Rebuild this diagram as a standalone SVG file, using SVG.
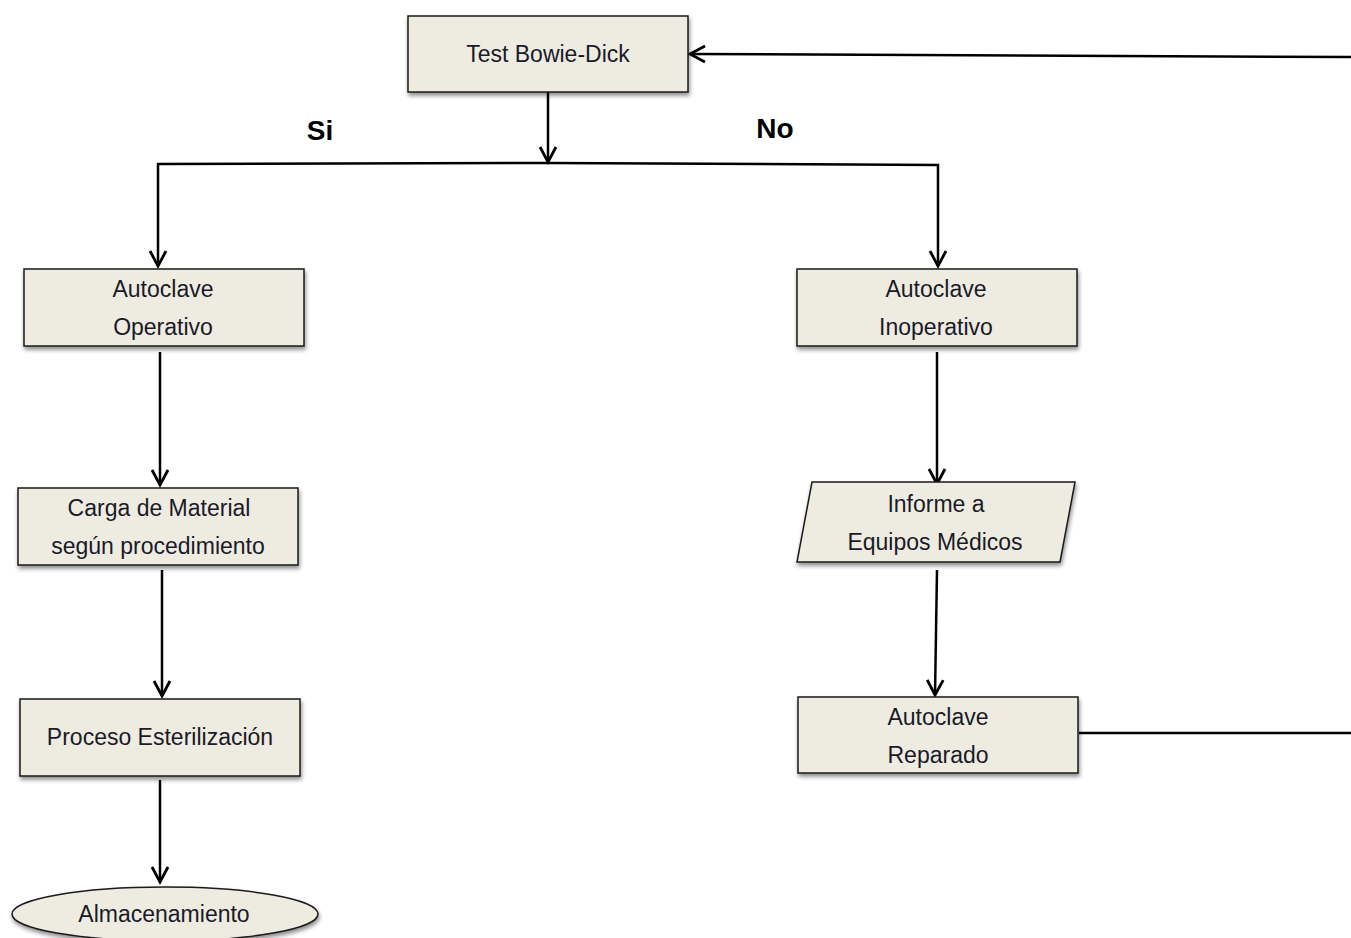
<svg xmlns="http://www.w3.org/2000/svg" width="1351" height="938" viewBox="0 0 1351 938">
<defs>
<marker id="arr" markerWidth="26" markerHeight="26" refX="21" refY="13" orient="auto" markerUnits="userSpaceOnUse">
<path d="M6,5 L21,13 L6,21" fill="none" stroke="#000" stroke-width="2.8"/>
</marker>
<filter id="sh" x="-10%" y="-10%" width="120%" height="130%">
<feGaussianBlur in="SourceAlpha" stdDeviation="2"/>
<feOffset dx="1" dy="3" result="b"/>
<feComponentTransfer><feFuncA type="linear" slope="0.45"/></feComponentTransfer>
<feMerge><feMergeNode/><feMergeNode in="SourceGraphic"/></feMerge>
</filter>
</defs>
<style>
.n{fill:#EEECE1;stroke:#1a1a1a;stroke-width:1.5;filter:url(#sh)}
.t{font-family:"Liberation Sans",Arial,sans-serif;font-size:23px;fill:#1a1a28;text-anchor:middle}
.l{font-family:"Liberation Sans",Arial,sans-serif;font-size:28px;font-weight:bold;fill:#000;text-anchor:middle}
.c{fill:none;stroke:#000;stroke-width:2.5}
</style>
<rect width="1351" height="938" fill="#fff"/>
<g id="connectors">
<line class="c" x1="1351" y1="57" x2="690" y2="54" marker-end="url(#arr)"/>
<line class="c" x1="548" y1="92" x2="548" y2="162" marker-end="url(#arr)"/>
<path class="c" d="M548,163 L158,164 L158,266" marker-end="url(#arr)"/>
<path class="c" d="M548,163 L938,165 L938,266" marker-end="url(#arr)"/>
<line class="c" x1="160" y1="352" x2="160" y2="485" marker-end="url(#arr)"/>
<line class="c" x1="162" y1="570" x2="162" y2="696" marker-end="url(#arr)"/>
<line class="c" x1="160" y1="780" x2="160" y2="882" marker-end="url(#arr)"/>
<line class="c" x1="937" y1="352" x2="937" y2="484" marker-end="url(#arr)"/>
<line class="c" x1="937" y1="570" x2="935" y2="695" marker-end="url(#arr)"/>
<line class="c" x1="1079" y1="733" x2="1351" y2="733"/>
</g>
<text class="l" x="320" y="140">Si</text>
<text class="l" x="775" y="138">No</text>
<g id="test">
<rect class="n" x="408" y="16" width="280" height="76"/>
<text class="t" x="548" y="62">Test Bowie-Dick</text>
</g>
<g id="operativo">
<rect class="n" x="24" y="269" width="280" height="77"/>
<text class="t" x="163" y="297">Autoclave</text>
<text class="t" x="163" y="335">Operativo</text>
</g>
<g id="inoperativo">
<rect class="n" x="797" y="269" width="280" height="77"/>
<text class="t" x="936" y="297">Autoclave</text>
<text class="t" x="936" y="335">Inoperativo</text>
</g>
<g id="carga">
<rect class="n" x="18" y="488" width="280" height="77"/>
<text class="t" x="159" y="516">Carga de Material</text>
<text class="t" x="158" y="554">según procedimiento</text>
</g>
<g id="proceso">
<rect class="n" x="20" y="699" width="280" height="77"/>
<text class="t" x="160" y="745">Proceso Esterilización</text>
</g>
<g id="almacenamiento">
<ellipse class="n" cx="165" cy="914" rx="153" ry="27"/>
<text class="t" x="164" y="922">Almacenamiento</text>
</g>
<g id="informe">
<polygon class="n" points="812,482 1075,482 1060,562 797,562"/>
<text class="t" x="936" y="512">Informe a</text>
<text class="t" x="935" y="550">Equipos Médicos</text>
</g>
<g id="reparado">
<rect class="n" x="798" y="697" width="280" height="76"/>
<text class="t" x="938" y="725">Autoclave</text>
<text class="t" x="938" y="763">Reparado</text>
</g>
</svg>
